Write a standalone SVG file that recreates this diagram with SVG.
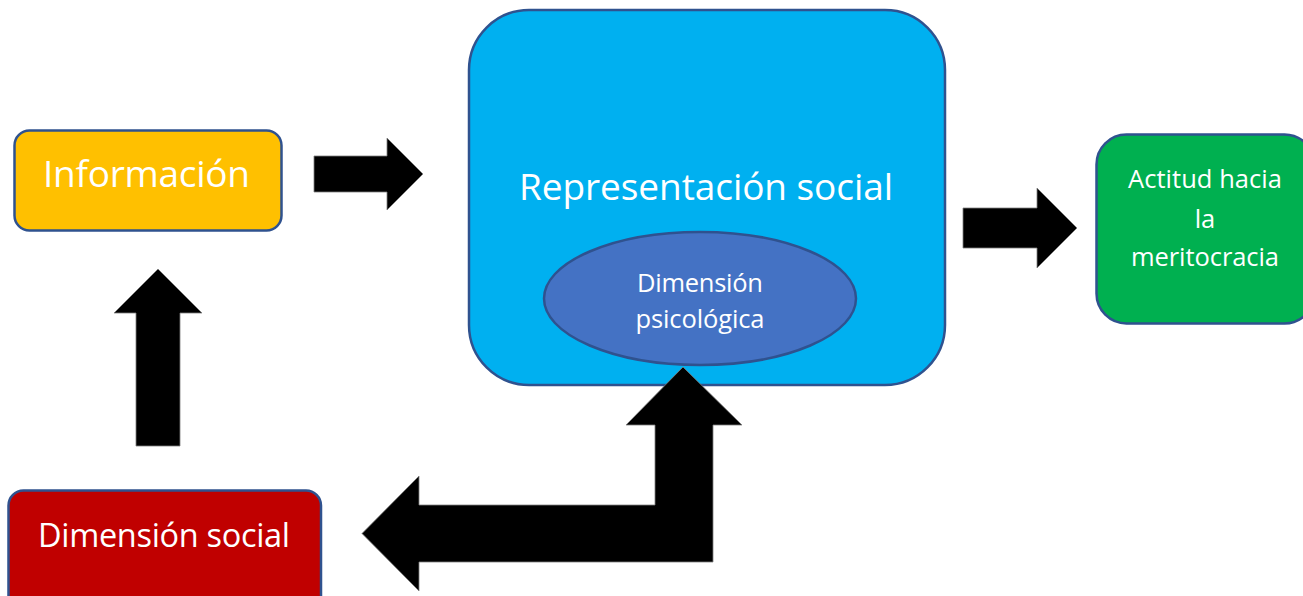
<svg xmlns="http://www.w3.org/2000/svg" width="1303" height="596" viewBox="0 0 1303 596">
<style>
.box{stroke:#2F528F;stroke-width:2.5}
.arrow{fill:#000;stroke:#7f7f7f;stroke-width:0.8}
text{font-family:"Open Sans","Liberation Sans",sans-serif;fill:#fff;text-anchor:middle}
.big{font-size:37px}
.mid{font-size:32.5px}
.small{font-size:25.5px}
</style>
<rect width="1303" height="596" fill="#fff"/>
<g id="informacion">
<rect class="box" x="14.5" y="130.5" width="267" height="100" rx="15" fill="#FFC000"/>
<text class="big" x="146.5" y="187" textLength="207">Información</text>
</g>
<g id="representacion">
<rect class="box" x="469" y="10" width="476" height="375" rx="60" fill="#00B0F0"/>
<text class="big" x="706" y="200" textLength="374">Representación social</text>
</g>
<g id="dimension-psicologica">
<ellipse class="box" cx="700" cy="298.5" rx="156" ry="66.5" fill="#4472C4"/>
<text class="small" x="700" y="292" textLength="126">Dimensión</text>
<text class="small" x="700" y="328" textLength="129">psicológica</text>
</g>
<g id="actitud">
<rect class="box" x="1096.5" y="134.5" width="218" height="189" rx="30" fill="#00B050"/>
<text class="small" x="1205" y="188" textLength="154">Actitud hacia</text>
<text class="small" x="1205" y="228">la</text>
<text class="small" x="1205" y="266" textLength="148">meritocracia</text>
</g>
<g id="dimension-social">
<rect class="box" x="8.5" y="490.5" width="312.5" height="130" rx="15" fill="#C00000"/>
<text class="mid" x="164" y="547" textLength="252">Dimensión social</text>
</g>
<g id="connectors">
<polygon class="arrow" points="314,156 387,156 387,138 423,174 387,210 387,192 314,192"/>
<polygon class="arrow" points="963,208 1037,208 1037,188 1077,228 1037,268 1037,248 963,248"/>
<polygon class="arrow" points="136,446 136,313 114,313 158,269 202,313 180,313 180,446"/>
<polygon class="arrow" points="683,367 742,425 713,425 713,562 419,562 419,591 362,533.5 419,476 419,505 655,505 655,425 626,425"/>
</g>
</svg>
